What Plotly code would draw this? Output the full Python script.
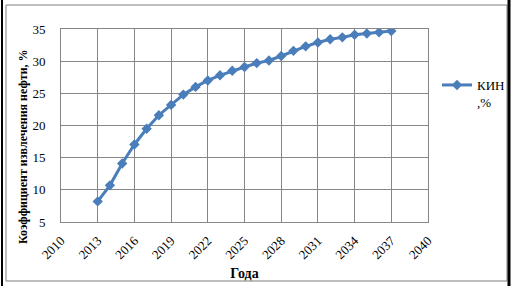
import plotly.graph_objects as go

years = list(range(2013, 2038))
kin = [8.2, 10.7, 14.1, 17.05, 19.5, 21.6, 23.2, 24.8, 26.0, 27.0, 27.8, 28.5,
       29.1, 29.7, 30.1, 30.8, 31.6, 32.3, 32.9, 33.4, 33.7, 34.1, 34.3, 34.5, 34.7]
x_ticks = list(range(2010, 2041, 3))
y_ticks = [5, 10, 15, 20, 25, 30, 35]

W, H = 512, 286
L, R, T, B = 61, 84, 29, 64
pw, ph = W - L - R, H - T - B

def px(x):
    return (x - L) / pw

def py(y):
    return (H - B - y) / ph

font = "'Times New Roman', 'Liberation Serif', serif"
blue = "#4A7EBB"
grid = "#868686"

fig = go.Figure()
fig.add_trace(go.Scatter(
    x=years, y=kin, mode="lines+markers", name="КИН<br>,%",
    line=dict(color=blue, width=3),
    marker=dict(symbol="diamond", size=8, color=blue),
))

fig.update_layout(
    width=W, height=H,
    margin=dict(l=L, r=R, t=T, b=B, autoexpand=False),
    paper_bgcolor="white", plot_bgcolor="white",
    font=dict(family=font, size=12, color="black"),
    legend=dict(x=px(437), y=py(70), xanchor="left", yanchor="top",
                valign="top", font=dict(family=font, size=13),
                bgcolor="rgba(0,0,0,0)"),
    showlegend=True,
    annotations=[
        dict(text="<b>Коэффициент извлечения нефти, %</b>", textangle=-90,
             xref="paper", yref="paper", x=px(23), y=py(147),
             xanchor="center", yanchor="middle", showarrow=False,
             font=dict(family=font, size=12)),
    ],
    shapes=[
        dict(type="rect", xref="paper", yref="paper",
             x0=px(6), x1=px(507), y0=py(281), y1=py(5),
             line=dict(color="#7f7f7f", width=1)),
        dict(type="line", xref="paper", yref="paper",
             x0=px(2), x1=px(2), y0=py(286), y1=py(0),
             line=dict(color="black", width=2)),
        dict(type="line", xref="paper", yref="paper",
             x0=px(509), x1=px(509), y0=py(286), y1=py(0),
             line=dict(color="black", width=3)),
    ],
)

fig.update_xaxes(
    range=[2010, 2040], tickvals=x_ticks, ticktext=[str(v) for v in x_ticks],
    tickangle=-45, showgrid=True, gridcolor=grid, gridwidth=1,
    showline=True, linecolor=grid, linewidth=1, mirror=True,
    ticks="outside", ticklen=5, tickcolor="rgba(0,0,0,0)",
    tickfont=dict(family=font, size=13),
    zeroline=False,
    title=dict(text="<b>Года</b>", font=dict(family=font, size=14), standoff=6),
)
fig.update_yaxes(
    range=[5, 35], tickvals=y_ticks, showgrid=True, gridcolor=grid, gridwidth=1,
    showline=True, linecolor=grid, linewidth=1, mirror=True,
    ticks="outside", ticklen=12, tickcolor="rgba(0,0,0,0)",
    tickfont=dict(family=font, size=13),
    zeroline=False,
)

fig.write_html("out.html", config={"displayModeBar": False},
               post_script="document.body.style.margin='0';")
